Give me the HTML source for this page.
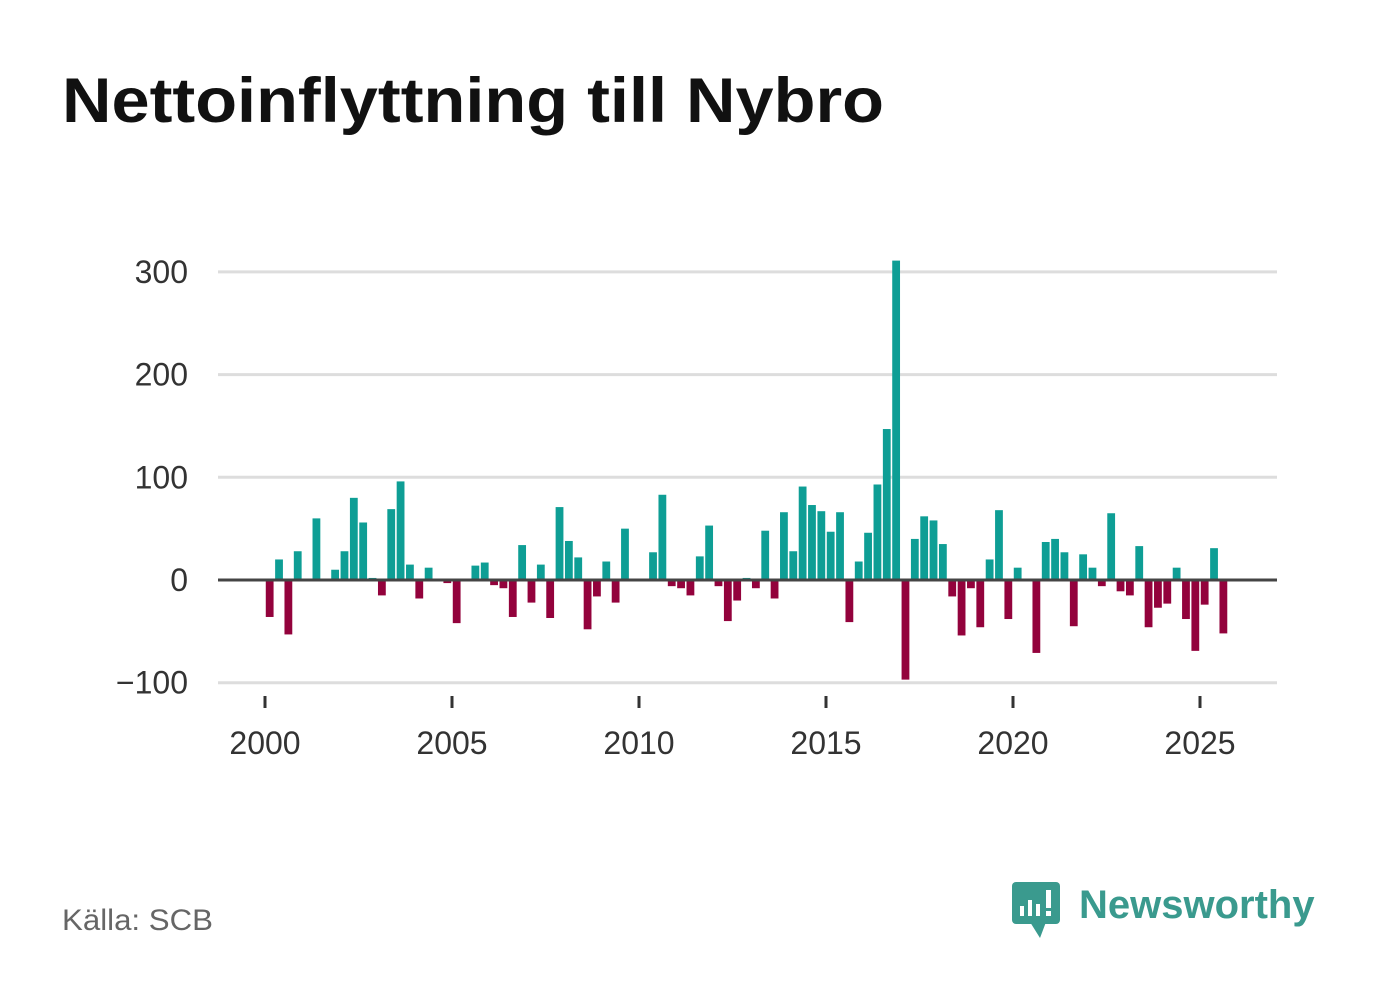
<!DOCTYPE html>
<html><head><meta charset="utf-8"><style>
body{margin:0;background:#fff;width:1382px;height:999px;overflow:hidden;font-family:"Liberation Sans",sans-serif;}
</style></head><body>
<svg width="1382" height="999" xmlns="http://www.w3.org/2000/svg">
<text x="62" y="122" font-size="63" font-weight="bold" fill="#111" textLength="822" lengthAdjust="spacingAndGlyphs" font-family="Liberation Sans, sans-serif">Nettoinflyttning till Nybro</text>
<g id="grid"></g><g id="bars"></g><g id="axes"></g>
<text x="62" y="930" font-size="30" fill="#666" textLength="151" lengthAdjust="spacingAndGlyphs">Källa: SCB</text>
<g>
<rect x="1012" y="882" width="48" height="42" rx="4" fill="#3a9a8e"/>
<polygon points="1030,922 1046,922 1040,938" fill="#3a9a8e"/>
<rect x="1020" y="906" width="4" height="10" fill="#fff"/><rect x="1028" y="900" width="4" height="16" fill="#fff"/><rect x="1036" y="904" width="4" height="12" fill="#fff"/><rect x="1046" y="890" width="5" height="18" fill="#fff"/><rect x="1046" y="911" width="5" height="5" fill="#fff"/>
<text x="1079" y="918" font-size="40" font-weight="bold" fill="#3a9a8e">Newsworthy</text>
</g>
</svg>
<script>
const ns="http://www.w3.org/2000/svg";
const startYear=2000;
const values=[-36,20,-53,28,0,60,0,10,28,80,56,2,-15,69,96,15,-18,12,0,-3,-42,0,14,17,-5,-8,-36,34,-22,15,-37,71,38,22,-48,-16,18,-22,50,0,0,27,83,-6,-8,-15,23,53,-6,-40,-20,2,-8,48,-18,66,28,91,73,67,47,66,-41,18,46,93,147,311,-97,40,62,58,35,-16,-54,-8,-46,20,68,-38,12,0,-71,37,40,27,-45,25,12,-6,65,-11,-15,33,-46,-27,-23,12,-38,-69,-24,31,-52];
const yTicks=[-100,0,100,200,300];
const yTickLabels=["\u2212100","0","100","200","300"];
const xTicks=[2000,2005,2010,2015,2020,2025];
function y(v){return 580-v*1.027;}
function x(t){return 265+(t-2000)*37.4;}
function mk(tag,attrs,parent){const e=document.createElementNS(ns,tag);for(const k in attrs)e.setAttribute(k,attrs[k]);document.getElementById(parent).appendChild(e);return e;}
yTicks.forEach((t,i)=>{
 if(t!==0){const l=mk('line',{x1:218,x2:1277,y1:y(t),y2:y(t),stroke:'#ddd','stroke-width':3},'grid');
 
 }
 const tx=mk('text',{x:188,y:y(t)+11,'text-anchor':'end','font-size':32,fill:'#333'},'axes');tx.textContent=yTickLabels[i];
 
 
});
values.forEach((v,i)=>{
 const cx=x(startYear+(i+0.5)/4);
 const top=v>=0?y(v):y(0),h=Math.abs(y(v)-y(0));
 const r=mk('rect',{x:cx-3.9,y:top,width:7.8,height:h,fill:v>=0?'#0e9e95':'#93023c'},'bars');
 
 
});
const zl=mk('line',{x1:218,x2:1277,y1:y(0),y2:y(0),stroke:'#444','stroke-width':3},'axes');


xTicks.forEach(t=>{
 const l=mk('line',{x1:x(t),x2:x(t),y1:696,y2:708,stroke:'#333','stroke-width':3},'axes');
 
 
 const tx=mk('text',{x:x(t),y:754,'text-anchor':'middle','font-size':32,fill:'#333'},'axes');tx.textContent=t;
 
 
});
</script>
</body></html>
